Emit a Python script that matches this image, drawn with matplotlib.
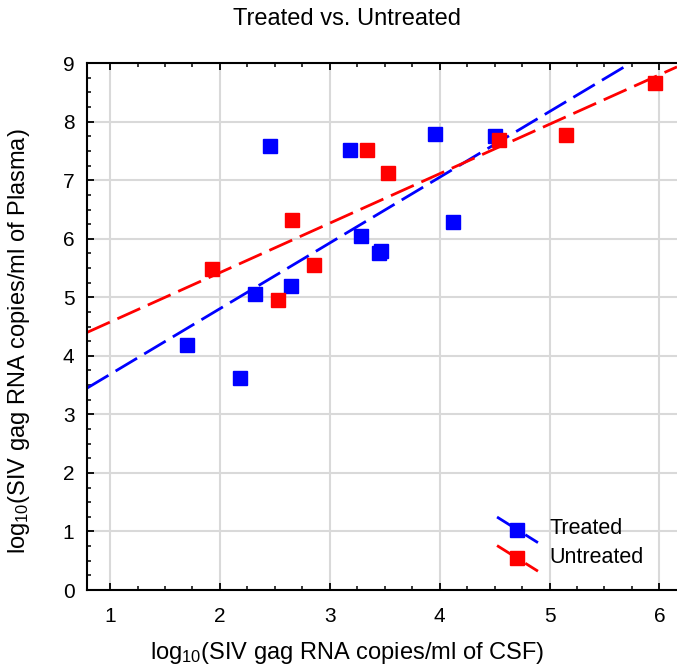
import numpy as np
import matplotlib
matplotlib.use('Agg')
import matplotlib.pyplot as plt
from matplotlib.lines import Line2D
from matplotlib.legend_handler import HandlerLine2D
from matplotlib.ticker import MultipleLocator

plt.rcParams['font.family'] = ['Liberation Sans', 'DejaVu Sans']
plt.rcParams['mathtext.fontset'] = 'custom'
plt.rcParams['mathtext.rm'] = 'Liberation Sans'
plt.rcParams['mathtext.it'] = 'Liberation Sans'

# log10 CSF (x) vs log10 plasma (y)
treated_x = [1.70, 2.18, 2.32, 2.46, 2.65, 3.18, 3.28, 3.45, 3.47, 3.96, 4.12, 4.50]
treated_y = [4.19, 3.62, 5.05, 7.59, 5.19, 7.51, 6.05, 5.76, 5.79, 7.79, 6.28, 7.75]
untreated_x = [1.93, 2.53, 2.66, 2.86, 3.34, 3.53, 4.54, 5.15, 5.96]
untreated_y = [5.48, 4.95, 6.32, 5.55, 7.51, 7.13, 7.68, 7.77, 8.66]

BLUE = '#0000ff'
RED = '#ff0000'


class DiagonalHandler(HandlerLine2D):
    # legend key drawn as a short diagonal dashed line with the marker on it
    def create_artists(self, legend, orig_handle, xdescent, ydescent,
                       width, height, fontsize, trans):
        xs = np.array([-xdescent, width - xdescent])
        mid = height / 2 - ydescent - height * 0.2
        ys = np.array([mid + height * 0.85, mid - height * 0.85])
        line = Line2D(xs, ys, color=orig_handle.get_color(), lw=2,
                      dashes=(9, 3))
        line.set_transform(trans)
        mk = Line2D([xs.mean()], [ys.mean()],
                    marker='s', ms=9.5, ls='none',
                    color=orig_handle.get_color())
        mk.set_transform(trans)
        return [line, mk]


fig = plt.figure(figsize=(6.77, 6.72), dpi=100)
ax = fig.add_axes([0.1285, 0.122, 0.8715, 0.784])

xlim = (0.79, 6.16)
xx = np.array(xlim)
handles = []
for xs, ys, col, name in [(treated_x, treated_y, BLUE, 'Treated'),
                          (untreated_x, untreated_y, RED, 'Untreated')]:
    k, b = np.polyfit(xs, ys, 1)
    ax.plot(xx, k * xx + b, color=col, lw=2, dashes=(9, 3), zorder=2)
    ax.plot(xs, ys, 's', color=col, ms=10, zorder=3)
    handles.append(Line2D([], [], color=col, marker='s', label=name))

ax.set_xlim(*xlim)
ax.set_ylim(0, 9)
ax.xaxis.set_major_locator(MultipleLocator(1))
ax.xaxis.set_minor_locator(MultipleLocator(0.25))
ax.yaxis.set_major_locator(MultipleLocator(1))
ax.yaxis.set_minor_locator(MultipleLocator(0.25))
ax.grid(True, which='major', color='#d9d9d9', lw=1.5, zorder=0)
ax.set_axisbelow(True)
ax.tick_params(which='both', direction='in', top=True, right=False,
               labelsize=15)
ax.tick_params(axis='x', pad=12)
ax.tick_params(axis='y', pad=9)
ax.tick_params(which='major', length=5, width=1.3)
ax.tick_params(which='minor', length=3, width=1.1)
for s in ['left', 'bottom', 'top']:
    ax.spines[s].set_linewidth(1.5)
ax.spines['right'].set_visible(False)

ax.set_xlabel('log$_{10}$(SIV gag RNA copies/ml of CSF)', fontsize=17)
ax.set_ylabel('log$_{10}$(SIV gag RNA copies/ml of Plasma)', fontsize=17)
ax.xaxis.set_label_coords(0.4407, -0.094)
ax.yaxis.set_label_coords(-0.093, 0.4716)
fig.text(347 / 677, 0.9717, 'Treated vs. Untreated', ha='center',
         va='center', fontsize=17)

ax.legend(handles=handles, handler_map={Line2D: DiagonalHandler()},
          loc='center left', bbox_to_anchor=(0.695, 0.089),
          frameon=False, fontsize=15.5, handlelength=1.9, handletextpad=0.55,
          labelspacing=0.35, borderpad=0, borderaxespad=0)

fig.savefig('out.png', dpi=100)
